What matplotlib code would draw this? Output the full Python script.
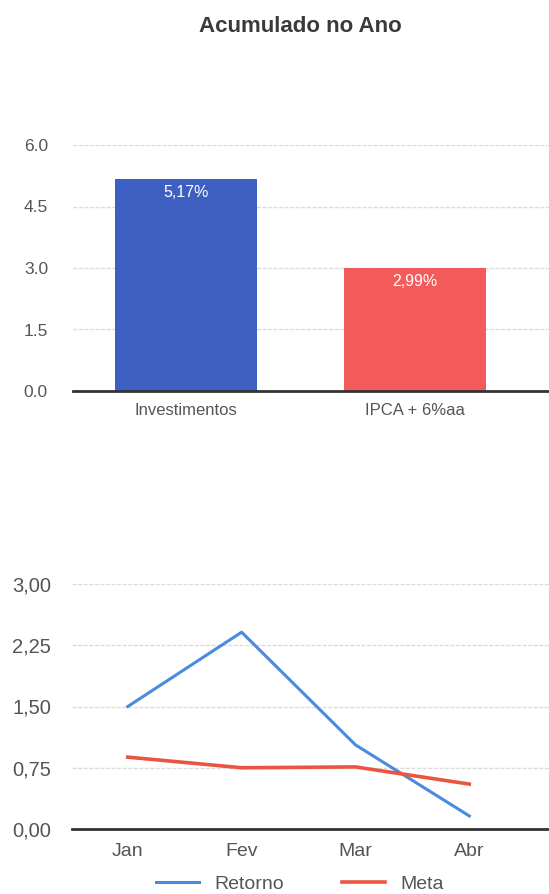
import matplotlib
matplotlib.use("Agg")
import matplotlib.pyplot as plt

plt.rcParams["font.family"] = ["Liberation Sans", "DejaVu Sans"]

# --- data ---
bar_cats = ["Investimentos", "IPCA + 6%aa"]
bar_vals = [5.17, 2.99]
bar_labels = ["5,17%", "2,99%"]
bar_yticks = [0.0, 1.5, 3.0, 4.5, 6.0]

months = ["Jan", "Fev", "Mar", "Abr"]
retorno = [1.50, 2.41, 1.03, 0.16]
meta = [0.88, 0.75, 0.76, 0.55]
line_yticks = [0.0, 0.75, 1.50, 2.25, 3.00]

W, H = 549, 894
fig = plt.figure(figsize=(W / 100, H / 100), dpi=100)
fig.patch.set_facecolor("white")

fig.text(300 / W, 1 - 26 / H, "Acumulado no Ano", ha="center", va="center",
         fontsize=16, fontweight="bold", color="#3a3a3a")

grid_c = "#dcdcdc"
tick_c = "#555555"

# --- Fig top: bars ---
ax = fig.add_axes([73 / W, 1 - 391 / H, (W - 73) / W, 246 / H])
x = list(range(len(bar_cats)))
bars = ax.bar(x, bar_vals, width=0.62, color=["#3d5fc2", "#f35b5b"], zorder=2)
for r, v, lab in zip(bars, bar_vals, bar_labels):
    ax.text(r.get_x() + r.get_width() / 2, v - 0.33, lab, ha="center", va="center",
            color="white", fontsize=11.5)
ax.set_xlim(-0.493, 1.585)
ax.set_ylim(0, 6.0)
ax.set_yticks(bar_yticks)
ax.set_yticklabels([f"{t:.1f}" for t in bar_yticks])
ax.set_xticks(x)
ax.set_xticklabels(bar_cats)
ax.tick_params(axis="y", length=0, colors=tick_c, labelsize=12.5, pad=18)
ax.tick_params(axis="x", length=0, colors=tick_c, labelsize=12, pad=9)
ax.grid(axis="y", color=grid_c, lw=1, ls=(0, (3, 1)), zorder=0)
for s in ["top", "right", "left"]:
    ax.spines[s].set_visible(False)
ax.spines["bottom"].set_color("#333333")
ax.spines["bottom"].set_linewidth(2)
ax.spines["bottom"].set_zorder(3)

# --- Fig bottom: lines ---
ax2 = fig.add_axes([72 / W, 1 - 829 / H, (W - 72) / W, 245 / H])
xm = list(range(len(months)))
ax2.plot(xm, retorno, color="#4a8be0", lw=2.2, label="Retorno", zorder=3)
ax2.plot(xm, meta, color="#ea5540", lw=2.6, label="Meta", zorder=3)
ax2.set_xlim(-0.49, 3.70)
ax2.set_ylim(0, 3.0)
ax2.set_yticks(line_yticks)
ax2.set_yticklabels([f"{t:.2f}".replace(".", ",") for t in line_yticks])
ax2.set_xticks(xm)
ax2.set_xticklabels(months)
ax2.tick_params(axis="y", length=0, colors=tick_c, labelsize=14.5, pad=15)
ax2.tick_params(axis="x", length=0, colors=tick_c, labelsize=14, pad=10)
ax2.grid(axis="y", color=grid_c, lw=1, ls=(0, (3, 1)), zorder=0)
for s in ["top", "right", "left"]:
    ax2.spines[s].set_visible(False)
ax2.spines["bottom"].set_color("#333333")
ax2.spines["bottom"].set_linewidth(2)
ax2.legend(loc="center", bbox_to_anchor=(300 / W, 1 - 884 / H),
           bbox_transform=fig.transFigure, ncol=2, frameon=False,
           fontsize=14, labelcolor=tick_c, handlelength=2.2, columnspacing=3.0,
           handletextpad=0.8)

plt.savefig("out.png", dpi=100)
